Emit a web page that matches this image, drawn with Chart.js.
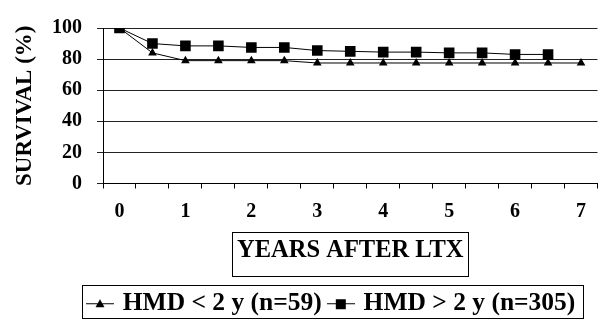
<!DOCTYPE html>
<html>
<head>
<meta charset="utf-8">
<script src="https://cdn.jsdelivr.net/npm/chart.js@4/dist/chart.umd.min.js"></script>
<style>
  html, body { margin: 0; padding: 0; background: #fff; overflow: hidden; }
</style>
</head>
<body>
<canvas id="survChart" width="605" height="320"></canvas>
<script>
// data (survival %, every half year)
const years = ['0', '0.5', '1', '1.5', '2', '2.5', '3', '3.5', '4', '4.5', '5', '5.5', '6', '6.5', '7'];
const hmdUnder2 = [100, 84, 79, 79, 79, 79, 77.5, 77.5, 77.5, 77.5, 77.5, 77.5, 77.5, 77.5, 77.5];
const hmdOver2 = [100, 90, 88.5, 88.5, 87.5, 87.5, 85.5, 85, 84.5, 84.5, 84, 84, 83, 83];
const seriesNames = ['HMD < 2 y (n=59)', 'HMD > 2 y (n=305)'];
const yTitle = 'SURVIVAL (%)';
const xTitle = 'YEARS AFTER LTX';

const serif = '"Liberation Serif", "Times New Roman", serif';
const xTitleSize = 24.5;
const xTitlePadBottom = 10;
// legend is left-aligned, then nudged to where the original has it
const legendShiftX = 81;
const legendShiftY = 6;

// little legend icons: a line with the marker in the middle
function legendIcon(kind) {
    const c = document.createElement('canvas');
    c.width = 28;
    c.height = 14;
    const g = c.getContext('2d');
    g.strokeStyle = '#000';
    g.lineWidth = 1;
    g.beginPath();
    g.moveTo(0, 7.5);
    g.lineTo(28, 7.5);
    g.stroke();
    g.fillStyle = '#000';
    if (kind === 'triangle') {
        g.beginPath();
        g.moveTo(14, 3);
        g.lineTo(18.5, 11);
        g.lineTo(9.5, 11);
        g.closePath();
        g.fill();
    } else {
        g.fillRect(9, 3, 10, 10);
    }
    return c;
}
const icons = [legendIcon('triangle'), legendIcon('rect')];

const boxPlugin = {
    id: 'boxes',
    afterLayout(chart) {
        const lg = chart.legend;
        lg.left += legendShiftX;
        lg.right += legendShiftX;
        lg.top += legendShiftY;
        lg.bottom += legendShiftY;
    },
    afterDraw(chart) {
        const ctx = chart.ctx;
        const xs = chart.scales.x;
        ctx.save();
        ctx.strokeStyle = '#000';
        ctx.lineWidth = 1;

        // frame around the x axis title
        ctx.font = 'bold ' + xTitleSize + 'px ' + serif;
        const tw = ctx.measureText(xTitle).width;
        const cy = xs.bottom - xTitleSize * 1.2 / 2 - xTitlePadBottom;
        const cx = (xs.left + xs.right) / 2;
        ctx.strokeRect(Math.round(cx - tw / 2 - 5) + 0.5, Math.round(cy - 19) + 0.5, Math.round(tw + 10), 44);

        // frame around the legend
        const hb = chart.legend.legendHitBoxes;
        if (hb && hb.length) {
            const first = hb[0];
            const last = hb[hb.length - 1];
            const x0 = Math.round(first.left - 8) + 0.5;
            const x1 = Math.round(last.left + last.width + 8) + 0.5;
            const y0 = Math.round(first.top - 6) + 0.5;
            const y1 = Math.round(first.top + 27.5) + 0.5;
            ctx.strokeRect(x0, y0, x1 - x0, y1 - y0);
        }
        ctx.restore();
    }
};

const ctx = document.getElementById('survChart').getContext('2d');
const survChart = new Chart(ctx, {
    type: 'line',
    data: {
        labels: years,
        datasets: [{
            label: seriesNames[0],
            data: hmdUnder2,
            borderColor: '#000',
            backgroundColor: '#000',
            borderWidth: 1,
            pointStyle: 'triangle',
            pointRadius: 5,
            pointBorderWidth: 0,
            tension: 0
        }, {
            label: seriesNames[1],
            data: hmdOver2,
            borderColor: '#000',
            backgroundColor: '#000',
            borderWidth: 1,
            pointStyle: 'rect',
            pointRadius: 7.5,
            pointBorderWidth: 0,
            tension: 0
        }]
    },
    options: {
        responsive: false,
        animation: false,
        layout: { padding: { top: 28, left: 0, right: 0, bottom: 0 } },
        plugins: {
            tooltip: { enabled: false },
            legend: {
                display: true,
                position: 'bottom',
                align: 'start',
                labels: {
                    usePointStyle: true,
                    pointStyleWidth: 20,
                    padding: 9,
                    color: '#000',
                    font: { family: serif, size: 25.5, weight: 'bold' },
                    generateLabels: chart => chart.data.datasets.map((ds, i) => ({
                        text: ds.label,
                        pointStyle: icons[i],
                        fillStyle: '#000',
                        strokeStyle: '#000',
                        lineWidth: 0,
                        fontColor: '#000',
                        hidden: false,
                        datasetIndex: i
                    }))
                }
            }
        },
        scales: {
            x: {
                offset: true,
                afterFit: s => { s.height = 92; },
                grid: { offset: true, drawOnChartArea: false, drawTicks: true, tickLength: 5, color: '#000' },
                border: { display: true, color: '#000', width: 1 },
                ticks: {
                    autoSkip: false,
                    maxRotation: 0,
                    padding: 11,
                    color: '#000',
                    font: { family: serif, size: 20, weight: 'bold' },
                    callback: function (v, i) {
                        const lab = years[i];
                        return Number.isInteger(Number(lab)) ? lab : '';
                    }
                },
                title: {
                    display: true,
                    text: xTitle,
                    color: '#000',
                    padding: { top: 0, bottom: xTitlePadBottom },
                    font: { family: serif, size: xTitleSize, weight: 'bold' }
                }
            },
            y: {
                min: 0,
                max: 100,
                afterFit: s => { s.width = 103; },
                grid: { color: '#222', lineWidth: 1, drawTicks: true, tickLength: 6 },
                border: { display: true, color: '#000', width: 1 },
                ticks: {
                    stepSize: 20,
                    padding: 15,
                    color: '#000',
                    font: { family: serif, size: 20, weight: 'bold' }
                },
                title: {
                    display: true,
                    text: yTitle,
                    color: '#000',
                    padding: { top: 11, bottom: 0 },
                    font: { family: serif, size: 23, weight: 'bold' }
                }
            }
        }
    },
    plugins: [boxPlugin]
});
</script>
</body>
</html>
